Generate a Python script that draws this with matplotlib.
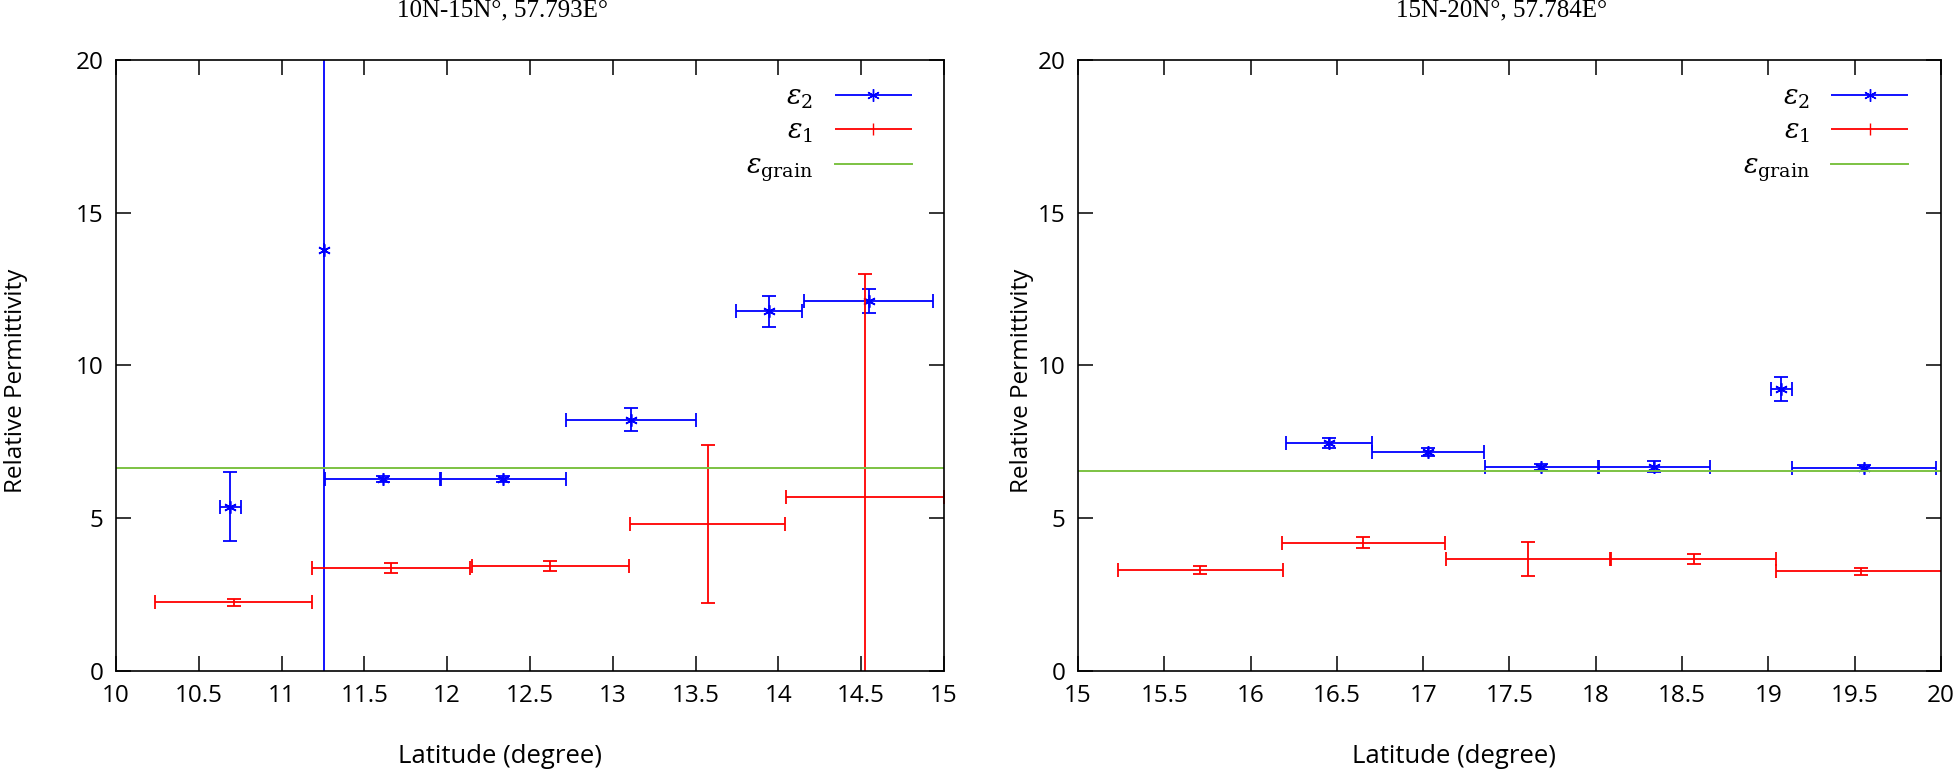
import matplotlib
matplotlib.use('Agg')
import matplotlib.pyplot as plt
from matplotlib.container import ErrorbarContainer
from matplotlib.legend_handler import HandlerErrorbar

plt.rcParams['font.family'] = ['Open Sans', 'DejaVu Sans']
plt.rcParams['mathtext.fontset'] = 'dejavuserif'

# left panel: 10N-15N
left_title = '10N-15N°, 57.793E°'
left_e2_x = [10.69, 11.256, 11.61, 12.34, 13.11, 13.945, 14.545]
left_e2_y = [5.37, 13.79, 6.29, 6.29, 8.22, 11.78, 12.11]
left_e2_xerr = [0.062, 0.0, 0.348, 0.377, 0.39, 0.20, 0.39]
left_e2_yerr = [1.13, 15.0, 0.1, 0.1, 0.38, 0.51, 0.40]
left_e1_x = [10.71, 11.661, 12.622, 13.573, 14.524]
left_e1_y = [2.25, 3.37, 3.43, 4.81, 5.70]
left_e1_xerr = [0.472, 0.479, 0.475, 0.47, 0.475]
left_e1_yerr = [0.12, 0.15, 0.16, 2.59, 7.28]
left_grain = 6.65

# right panel: 15N-20N
right_title = '15N-20N°, 57.784E°'
right_e2_x = [16.454, 17.03, 17.683, 18.34, 19.074, 19.553]
right_e2_y = [7.47, 7.16, 6.69, 6.69, 9.23, 6.65]
right_e2_xerr = [0.248, 0.325, 0.327, 0.323, 0.06, 0.418]
right_e2_yerr = [0.16, 0.13, 0.1, 0.17, 0.38, 0.1]
right_e1_x = [15.709, 16.653, 17.61, 18.567, 19.539]
right_e1_y = [3.31, 4.19, 3.66, 3.66, 3.26]
right_e1_xerr = [0.479, 0.473, 0.475, 0.477, 0.496]
right_e1_yerr = [0.13, 0.18, 0.56, 0.16, 0.12]
right_grain = 6.55

fig = plt.figure(figsize=(19.6, 7.71), dpi=100)
ax1 = fig.add_axes([0.0592, 0.1297, 0.4224, 0.7925])
ax2 = fig.add_axes([0.55, 0.1297, 0.4403, 0.7925])

panels = [
    (ax1, left_title, 0.2566, 10, left_e2_x, left_e2_y, left_e2_xerr, left_e2_yerr,
     left_e1_x, left_e1_y, left_e1_xerr, left_e1_yerr, left_grain, -0.106, 0.464),
    (ax2, right_title, 0.7663, 15, right_e2_x, right_e2_y, right_e2_xerr, right_e2_yerr,
     right_e1_x, right_e1_y, right_e1_xerr, right_e1_yerr, right_grain, -0.051, 0.436),
]

for (ax, title, tx, x0, e2x, e2y, e2xe, e2ye, e1x, e1y, e1xe, e1ye, grain, ylx, xlx) in panels:
    ax.errorbar(e2x, e2y, xerr=e2xe, yerr=e2ye, fmt='none', ecolor='#0000ff',
                elinewidth=1.3, capsize=5, capthick=1.3)
    ax.plot(e2x, e2y, linestyle='none', marker=(6, 2, 0), markersize=9,
            color='#0000ff', markeredgewidth=1.2)
    ax.errorbar(e1x, e1y, xerr=e1xe, yerr=e1ye, fmt='none', ecolor='#ff0000',
                elinewidth=1.3, capsize=5, capthick=1.3)
    ax.axhline(grain, color='#7cc242', linewidth=1.4)

    # legend proxies, gnuplot style key
    h2 = ax.errorbar([], [], xerr=[], yerr=[], color='#0000ff', marker=(6, 2, 0),
                     markersize=9, linestyle='none', elinewidth=1.3, capsize=6,
                     capthick=1.3)
    h1 = ax.errorbar([], [], xerr=[], yerr=[], color='#ff0000', marker='|',
                     markersize=8, linestyle='none', elinewidth=1.3, capsize=6,
                     capthick=1.3)
    g, = ax.plot([], [], color='#7cc242', linewidth=1.4)
    ax.legend([h2, h1, g],
              [r'$\varepsilon_2$', r'$\varepsilon_1$', r'$\varepsilon_{\mathrm{grain}}$'],
              loc='upper right', bbox_to_anchor=(0.989, 1.0),
              markerfirst=False, frameon=False, fontsize=19.5,
              handlelength=2.85, handletextpad=0.8, labelspacing=0.25,
              borderaxespad=0.45,
              handler_map={ErrorbarContainer: HandlerErrorbar(xerr_size=1.42, yerr_size=0)})

    ax.set_xlim(x0, x0 + 5)
    ax.set_ylim(0, 20)
    ax.set_xticks([x0 + 0.5 * i for i in range(11)])
    ax.set_xticklabels(['%g' % (x0 + 0.5 * i) for i in range(11)])
    ax.set_yticks([0, 5, 10, 15, 20])
    ax.tick_params(direction='in', length=11, width=1.1, top=True, right=True,
                   labelsize=17.5, pad=9)
    for s in ax.spines.values():
        s.set_linewidth(1.2)
    ax.set_xlabel('Latitude (degree)', fontsize=18.5)
    ax.set_ylabel('Relative Permittivity', fontsize=17.5)
    ax.xaxis.set_label_coords(xlx, -0.12)
    ax.yaxis.set_label_coords(ylx, 0.475)
    fig.text(tx, 0.986, title, ha='center', va='center', fontsize=18,
             family=['Liberation Serif', 'DejaVu Serif'])

fig.savefig('out.png', dpi=100)
